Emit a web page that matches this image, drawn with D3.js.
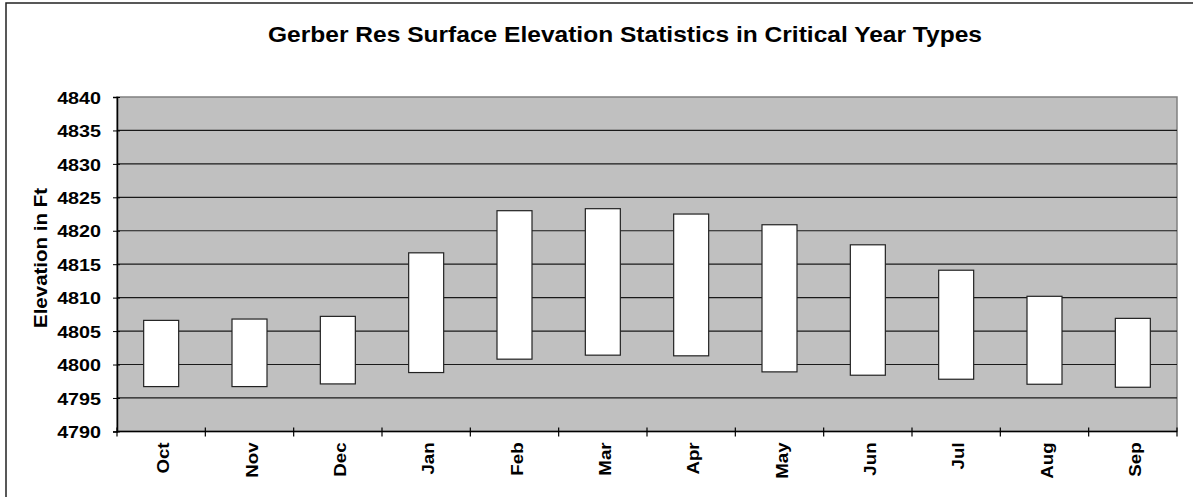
<!DOCTYPE html>
<html>
<head>
<meta charset="utf-8">
<script src="https://cdn.jsdelivr.net/npm/d3@7"></script>
<style>
  html, body { margin: 0; padding: 0; background: #fff; }
  svg { display: block; font-family: "Liberation Sans", Arial, sans-serif; }
</style>
</head>
<body>
<svg id="chart" width="1193" height="497"></svg>
<script>
const title = "Gerber Res Surface Elevation Statistics in Critical Year Types";
const yLabel = "Elevation in Ft";
const months = ["Oct","Nov","Dec","Jan","Feb","Mar","Apr","May","Jun","Jul","Aug","Sep"];
const maxElev = [4806.6, 4806.8, 4807.2, 4816.7, 4823.0, 4823.3, 4822.5, 4820.9, 4817.9, 4814.1, 4810.2, 4806.9];
const minElev = [4796.7, 4796.7, 4797.1, 4798.8, 4800.8, 4801.4, 4801.3, 4798.9, 4798.4, 4797.8, 4797.05, 4796.6];
const yTicks = [4790, 4795, 4800, 4805, 4810, 4815, 4820, 4825, 4830, 4835, 4840];

const svg = d3.select("#chart");
const m = {left: 117, top: 97, right: 1177, bottom: 431.4};

// stretch text along its reading direction by factor k
function stretch(sel, k) {
  sel.each(function () {
    const len = this.getComputedTextLength();
    d3.select(this).attr("textLength", len * k).attr("lengthAdjust", "spacingAndGlyphs");
  });
}

// outer frame
svg.append("rect").attr("x", 6).attr("y", 3).attr("width", 1200).attr("height", 510)
  .attr("fill", "#fff").attr("stroke", "#222").attr("stroke-width", 1.5);

const x = d3.scaleBand().domain(months).range([m.left, m.right]).paddingInner(0).paddingOuter(0);
const y = d3.scaleLinear().domain([4790, 4840]).range([m.bottom, m.top]);

// plot background
svg.append("rect").attr("x", m.left).attr("y", m.top)
  .attr("width", m.right - m.left).attr("height", m.bottom - m.top)
  .attr("fill", "#c0c0c0").attr("stroke", "#808080").attr("stroke-width", 1.5);

// gridlines
svg.append("g").selectAll("line").data(yTicks.slice(1, -1)).join("line")
  .attr("x1", m.left).attr("x2", m.right)
  .attr("y1", d => y(d)).attr("y2", d => y(d))
  .attr("stroke", "#1a1a1a").attr("stroke-width", 1.2);

// bars (floating)
const bw = 35;
svg.append("g").selectAll("rect").data(months).join("rect")
  .attr("x", d => x(d) + x.bandwidth() / 2 - bw / 2)
  .attr("width", bw)
  .attr("y", (d, i) => y(maxElev[i]))
  .attr("height", (d, i) => y(minElev[i]) - y(maxElev[i]))
  .attr("fill", "#fff").attr("stroke", "#222").attr("stroke-width", 1.2);

// y axis
const yAxis = d3.axisLeft(y).tickValues(yTicks).tickSize(4).tickPadding(12).tickFormat(d3.format("d"));
const gy = svg.append("g").attr("transform", `translate(${m.left},0)`).call(yAxis);
gy.attr("font-size", null).attr("font-family", null);
gy.select(".domain").attr("stroke", "#000").attr("stroke-width", 1.5);
gy.selectAll(".tick line").attr("stroke", "#000").attr("x2", -4).attr("x1", 3);
gy.selectAll(".tick text").style("font-size", "17px").style("font-weight", "bold").attr("fill", "#000")
  .attr("dy", "0.36em").call(stretch, 1.16);

// x axis
const xBounds = d3.range(months.length + 1).map(i => m.left + i * x.step());
const gx = svg.append("g");
gx.append("line").attr("x1", m.left).attr("x2", m.right).attr("y1", m.bottom).attr("y2", m.bottom)
  .attr("stroke", "#000").attr("stroke-width", 1.5);
gx.selectAll("line.tk").data(xBounds).join("line").attr("class", "tk")
  .attr("x1", d => d).attr("x2", d => d)
  .attr("y1", m.bottom - 4).attr("y2", m.bottom + 5)
  .attr("stroke", "#000").attr("stroke-width", 1.2);
gx.selectAll("text").data(months).join("text")
  .attr("transform", d => `translate(${x(d) + x.bandwidth() / 2 + 8},${m.bottom + 11}) rotate(-90)`)
  .attr("text-anchor", "end")
  .style("font-size", "17px").style("font-weight", "bold").attr("fill", "#000")
  .text(d => d)
  .call(stretch, 1.1);

// y label
svg.append("text")
  .attr("transform", `translate(46.5,258) rotate(-90)`)
  .attr("text-anchor", "middle")
  .style("font-size", "18px").style("font-weight", "bold").attr("fill", "#000")
  .text(yLabel)
  .attr("textLength", 140).attr("lengthAdjust", "spacingAndGlyphs");

// title
svg.append("text")
  .attr("x", 625).attr("y", 42)
  .attr("text-anchor", "middle")
  .style("font-size", "22.5px").style("font-weight", "bold").attr("fill", "#000")
  .text(title)
  .attr("textLength", 714).attr("lengthAdjust", "spacingAndGlyphs");
</script>
</body>
</html>
